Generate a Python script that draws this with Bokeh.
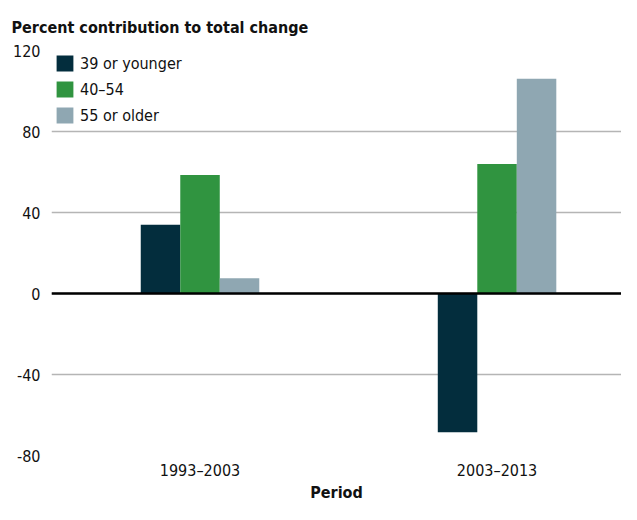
from bokeh.plotting import figure
from bokeh.models import Range1d, FixedTicker, Span, Legend, LegendItem, ColumnDataSource
from bokeh.embed import file_html
from bokeh.resources import INLINE

periods = ["1993\u20132003", "2003\u20132013"]
series_names = ["39 or younger", "40\u201354", "55 or older"]
young = [34, -68.5]
middle = [58.5, 64]
older = [7.5, 106]
colors = ["#032d3d", "#309440", "#8fa7b2"]
y_ticks = [-80, -40, 0, 40, 80, 120]
y_tick_labels = ["-80", "-40", "0", "40", "80", "120"]

FONT = "'DejaVu Sans Condensed', sans-serif"

p = figure(width=621, height=504, output_backend="svg", toolbar_location=None,
           x_range=Range1d(0, 1.919), y_range=Range1d(-80, 120),
           min_border_left=51, min_border_right=0, min_border_bottom=0, min_border_top=50)

p.title.text = "Percent contribution to total change"
p.title.text_font = FONT
p.title.text_font_size = "16px"
p.title.text_font_style = "bold"
p.title.text_color = "#111111"
p.title.align = "left"
p.title.offset = -40
p.title.standoff = 28

bw = 0.133
xc = [i + 0.5 for i in range(len(periods))]
items = []
for k, (vals, col, name) in enumerate(zip([young, middle, older], colors, series_names)):
    src = ColumnDataSource(dict(x=[c + (k - 1) * bw for c in xc], top=vals))
    r = p.vbar(x="x", top="top", bottom=0, width=bw, source=src, fill_color=col, line_color=None)
    items.append(LegendItem(label=name, renderers=[r]))

p.add_layout(Span(location=0, dimension="width", line_color="black", line_width=2.5, level="overlay"))

legend = Legend(items=items, location="top_left", margin=3, padding=4, spacing=6,
                glyph_width=21, glyph_height=20, label_height=20, label_standoff=5,
                label_text_font=FONT, label_text_font_size="16px", label_text_color="#111111",
                border_line_color=None, background_fill_alpha=0)
p.add_layout(legend)

p.xaxis.ticker = FixedTicker(ticks=xc)
p.xaxis.major_label_overrides = {xc[i]: periods[i] for i in range(len(periods))}
p.yaxis.ticker = FixedTicker(ticks=y_ticks)
p.yaxis.major_label_overrides = {y_ticks[i]: y_tick_labels[i] for i in range(len(y_ticks))}
for ax in (p.xaxis, p.yaxis):
    ax.axis_line_color = None
    ax.major_tick_line_color = None
    ax.minor_tick_line_color = None
    ax.major_tick_out = 0
    ax.major_tick_in = 0
    ax.minor_tick_out = 0
    ax.minor_tick_in = 0
    ax.major_label_text_font = FONT
    ax.major_label_text_font_size = "16px"
    ax.major_label_text_color = "#111111"
p.yaxis.major_label_standoff = 11
p.xaxis.major_label_standoff = 5
p.xaxis.axis_label = "Period"
p.xaxis.axis_label_text_font = FONT
p.xaxis.axis_label_text_font_size = "16px"
p.xaxis.axis_label_text_font_style = "bold"
p.xaxis.axis_label_text_color = "#111111"
p.xaxis.axis_label_standoff = 0

p.xgrid.grid_line_color = None
p.ygrid.grid_line_color = "#b5b5b5"
p.ygrid.grid_line_width = 1.5
p.outline_line_color = None

open("out.html", "w").write(file_html(p, INLINE))
